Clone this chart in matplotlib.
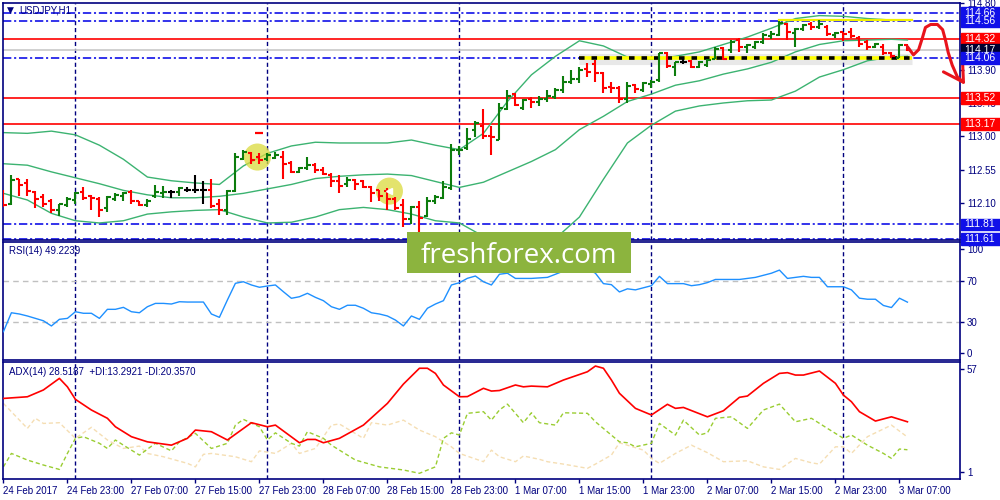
import matplotlib.pyplot as plt
from matplotlib.patches import Rectangle
import numpy as np

plt.rcParams['font.family'] = ['Liberation Sans', 'DejaVu Sans']
plt.rcParams['lines.scale_dashes'] = False

# ---- hourly bars, 24 Feb 15:00 .. 3 Mar 08:00
opens = [112.25, 112.09, 112.42, 112.37, 112.25, 112.18, 112.13, 112.00, 112.07, 112.14,
         112.25, 112.19, 112.16, 112.03, 112.16, 112.19, 112.25, 112.12, 112.07, 112.19,
         112.23, 112.25, 112.25, 112.28, 112.27, 112.28, 112.28, 112.08, 112.01, 112.26,
         112.69, 112.78, 112.72, 112.69, 112.71, 112.72, 112.64, 112.52, 112.57, 112.61,
         112.55, 112.48, 112.39, 112.35, 112.41, 112.39, 112.31, 112.27, 112.26, 112.15,
         112.07, 111.89, 112.04, 111.92, 112.12, 112.17, 112.30, 112.81, 112.84, 113.08,
         113.14, 113.00, 112.95, 113.37, 113.57, 113.38, 113.51, 113.47, 113.51, 113.53,
         113.62, 113.74, 113.78, 113.91, 113.98, 113.86, 113.67, 113.65, 113.51, 113.69,
         113.63, 113.71, 113.76, 114.12, 113.94, 114.00, 114.02, 113.93, 113.96, 114.05,
         114.19, 114.17, 114.30, 114.20, 114.20, 114.27, 114.35, 114.37, 114.51, 114.39,
         114.45, 114.51, 114.47, 114.47, 114.37, 114.41, 114.41, 114.33, 114.28, 114.20,
         114.21, 114.12, 114.06, 114.23]
highs = [112.27, 112.48, 112.43, 112.43, 112.26, 112.22, 112.15, 112.08, 112.18, 112.25,
         112.31, 112.21, 112.18, 112.19, 112.23, 112.25, 112.27, 112.13, 112.15, 112.34,
         112.33, 112.27, 112.31, 112.32, 112.48, 112.40, 112.43, 112.16, 112.28, 112.77,
         112.82, 112.79, 112.77, 112.78, 112.79, 112.80, 112.66, 112.58, 112.72, 112.64,
         112.58, 112.50, 112.48, 112.45, 112.43, 112.41, 112.33, 112.28, 112.30, 112.18,
         112.15, 112.06, 112.12, 112.18, 112.21, 112.40, 112.90, 112.87, 113.11, 113.21,
         113.37, 113.14, 113.45, 113.62, 113.59, 113.51, 113.53, 113.55, 113.62, 113.65,
         113.82, 113.89, 113.94, 113.99, 114.03, 113.87, 113.73, 113.68, 113.73, 113.71,
         113.74, 113.76, 114.13, 114.14, 114.01, 114.06, 114.03, 114.02, 114.05, 114.20,
         114.20, 114.30, 114.33, 114.24, 114.29, 114.39, 114.42, 114.56, 114.53, 114.46,
         114.52, 114.55, 114.57, 114.50, 114.41, 114.41, 114.46, 114.35, 114.30, 114.26,
         114.24, 114.14, 114.24, 114.24]
lows = [112.05, 112.07, 112.19, 112.20, 112.03, 112.05, 111.97, 111.92, 112.05, 112.09,
        112.14, 112.01, 111.91, 111.98, 112.13, 112.13, 112.09, 112.06, 112.05, 112.17,
        112.17, 112.17, 112.20, 112.25, 112.23, 112.08, 112.03, 111.94, 111.94, 112.25,
        112.68, 112.63, 112.63, 112.66, 112.70, 112.43, 112.51, 112.51, 112.55, 112.51,
        112.48, 112.31, 112.24, 112.32, 112.28, 112.30, 112.11, 112.12, 112.01, 112.00,
        111.77, 111.82, 111.71, 111.91, 112.08, 112.16, 112.28, 112.75, 112.82, 112.99,
        112.97, 112.75, 112.95, 113.36, 113.41, 113.35, 113.38, 113.41, 113.47, 113.51,
        113.59, 113.71, 113.72, 113.80, 113.73, 113.59, 113.59, 113.45, 113.45, 113.58,
        113.60, 113.65, 113.74, 113.92, 113.81, 113.97, 113.92, 113.92, 113.94, 114.05,
        114.03, 114.12, 114.14, 114.12, 114.18, 114.24, 114.32, 114.35, 114.30, 114.21,
        114.42, 114.44, 114.45, 114.35, 114.33, 114.29, 114.33, 114.21, 114.17, 114.19,
        114.10, 114.06, 114.06, 114.15]
closes = [112.07, 112.41, 112.34, 112.26, 112.15, 112.08, 112.00, 112.08, 112.16, 112.23,
          112.17, 112.17, 112.01, 112.18, 112.21, 112.23, 112.13, 112.07, 112.13, 112.25,
          112.25, 112.25, 112.30, 112.28, 112.27, 112.28, 112.06, 112.01, 112.26, 112.72,
          112.79, 112.68, 112.68, 112.75, 112.75, 112.63, 112.52, 112.57, 112.61, 112.54,
          112.49, 112.39, 112.33, 112.41, 112.36, 112.32, 112.24, 112.19, 112.15, 112.03,
          111.89, 112.04, 111.90, 112.13, 112.18, 112.31, 112.82, 112.82, 112.97, 113.18,
          113.00, 112.99, 113.38, 113.55, 113.42, 113.49, 113.47, 113.50, 113.54, 113.62,
          113.74, 113.77, 113.90, 113.87, 113.86, 113.65, 113.65, 113.51, 113.68, 113.64,
          113.72, 113.74, 114.12, 113.95, 114.00, 114.00, 113.93, 114.00, 114.03, 114.18,
          114.05, 114.28, 114.20, 114.23, 114.27, 114.37, 114.38, 114.53, 114.41, 114.45,
          114.50, 114.47, 114.51, 114.38, 114.39, 114.38, 114.35, 114.24, 114.21, 114.24,
          114.12, 114.08, 114.23, 114.17]

# ---- Bollinger bands, read every third bar
bb_idx = [0, 3, 6, 9, 12, 15, 18, 21, 24, 27, 30, 33, 36, 39, 42, 45, 48, 51, 54, 57,
          60, 63, 66, 69, 72, 75, 78, 81, 84, 87, 90, 93, 96, 99, 102, 105, 108, 111, 113]
bb_upper = [113.05, 113.04, 113.07, 113.02, 112.88, 112.69, 112.45, 112.40, 112.37, 112.35,
            112.60, 112.77, 112.87, 112.92, 112.91, 112.91, 112.91, 112.95, 112.88, 112.82,
            113.04, 113.47, 113.83, 114.08, 114.29, 114.22, 114.07, 114.04, 114.08, 114.14,
            114.24, 114.34, 114.46, 114.59, 114.63, 114.62, 114.59, 114.57, 114.57]
bb_mid = [112.63, 112.61, 112.52, 112.44, 112.36, 112.27, 112.21, 112.17, 112.17, 112.19,
          112.23, 112.29, 112.35, 112.43, 112.46, 112.48, 112.49, 112.47, 112.39, 112.31,
          112.38, 112.52, 112.66, 112.82, 113.09, 113.27, 113.47, 113.57, 113.69, 113.75,
          113.84, 113.91, 114.00, 114.14, 114.24, 114.29, 114.30, 114.31, 114.30]
bb_lower = [112.23, 112.14, 111.96, 111.86, 111.83, 111.86, 111.95, 111.98, 112.00, 112.01,
            111.91, 111.83, 111.84, 111.91, 112.01, 112.04, 112.01, 111.95, 111.86, 111.83,
            111.65, 111.53, 111.50, 111.62, 111.91, 112.42, 112.91, 113.15, 113.34, 113.41,
            113.45, 113.48, 113.49, 113.61, 113.80, 113.90, 114.02, 114.07, 114.08]

# ---- RSI(14), one value per bar
rsi = [20.8, 39.0, 37.8, 35.9, 33.6, 31.3, 26.3, 32.7, 33.6, 40.0,
       38.5, 38.5, 33.6, 42.3, 42.3, 44.2, 40.0, 39.0, 44.8, 48.0,
       48.0, 47.4, 49.6, 49.3, 49.3, 49.3, 37.8, 34.6, 51.3, 67.3,
       68.8, 65.7, 63.5, 64.7, 65.7, 59.2, 52.9, 54.4, 57.7, 53.8,
       50.6, 44.8, 42.3, 46.2, 46.2, 43.3, 39.0, 37.8, 35.9, 32.0,
       26.3, 35.9, 32.7, 43.3, 47.4, 50.6, 65.7, 67.9, 72.1, 74.3,
       68.8, 65.7, 76.0, 77.0, 72.0, 72.0, 72.0, 72.5, 73.0, 76.0,
       79.0, 81.0, 83.0, 81.0, 77.0, 67.0, 66.0, 59.0, 62.0, 61.0,
       63.0, 65.0, 74.0, 67.0, 67.0, 67.0, 65.0, 66.0, 68.0, 71.0,
       71.0, 71.0, 71.0, 72.0, 73.0, 75.0, 77.0, 80.0, 72.0, 73.0,
       74.0, 73.0, 73.0, 64.0, 64.0, 64.0, 61.0, 53.0, 52.0, 52.0,
       46.0, 44.0, 53.0, 49.2]

# ---- ADX(14) with +DI / -DI
adx_idx = [0, 3, 5, 7, 8, 9, 11, 13, 14, 16, 18, 21, 23, 24, 26, 28, 31, 33, 34, 37,
           38, 39, 40, 42, 45, 48, 50, 52, 53, 54, 55, 57, 58, 60, 61, 62, 64, 65, 66, 68,
           70, 73, 74, 75, 76, 77, 79, 81, 83, 84, 85, 88, 90, 92, 93, 95, 97, 98, 99, 100,
           102, 104, 105, 106, 107, 109, 111, 113]
adx = [41.2, 42.1, 45.8, 52.1, 47.5, 40.7, 34.9, 30.4, 25.8, 20.4, 17.6, 15.8, 19.5, 24.0,
       23.1, 18.6, 28.0, 25.8, 26.7, 17.1, 18.9, 18.9, 17.1, 19.5, 26.7, 38.5, 49.0, 57.6,
       57.6, 54.8, 48.5, 42.1, 42.2, 46.7, 45.2, 45.5, 48.5, 47.5, 47.9, 47.5, 51.2, 55.7,
       58.8, 57.6, 51.2, 44.0, 35.8, 32.2, 38.0, 35.8, 36.3, 31.2, 34.5, 41.8, 42.5, 49.4,
       54.8, 55.2, 53.9, 53.9, 56.1, 49.4, 43.0, 39.4, 34.0, 28.9, 31.2, 28.5]
pdi_idx = [0, 1, 3, 5, 7, 8, 9, 10, 12, 13, 14, 15, 17, 19, 21, 22, 24, 26, 28, 29,
           30, 32, 33, 34, 36, 37, 38, 40, 41, 44, 47, 50, 52, 54, 55, 56, 57, 58, 60, 61,
           62, 63, 64, 65, 66, 67, 69, 70, 73, 74, 77, 78, 79, 81, 82, 84, 85, 87, 88, 89,
           91, 93, 95, 97, 99, 101, 103, 105, 106, 108, 110, 111, 112, 113]
pdi = [4.0, 11.3, 7.7, 5.0, 2.6, 11.3, 19.5, 20.4, 16.8, 14.0, 18.6, 15.8, 10.4, 16.8,
       12.7, 17.6, 22.2, 14.0, 16.8, 26.7, 29.8, 25.8, 18.6, 22.5, 16.8, 15.3, 23.1, 19.5,
       15.8, 7.7, 4.0, 2.3, 0.5, 4.0, 19.5, 22.5, 21.3, 33.1, 34.0, 29.4, 34.9, 38.1, 33.1,
       28.0, 33.4, 28.0, 26.7, 33.4, 33.1, 28.5, 17.6, 17.1, 14.9, 16.8, 27.6, 21.3, 29.4,
       21.3, 22.5, 30.4, 31.2, 24.9, 34.9, 38.1, 28.5, 30.4, 24.9, 19.5, 21.3, 15.8, 11.3,
       8.6, 13.7, 13.3]
mdi_idx = [0, 3, 4, 5, 7, 9, 11, 13, 15, 17, 18, 20, 23, 24, 25, 26, 29, 31, 32, 34,
           36, 37, 39, 41, 42, 45, 46, 48, 50, 52, 54, 56, 57, 60, 61, 62, 64, 65, 67, 68,
           70, 73, 74, 76, 77, 80, 81, 82, 84, 86, 88, 90, 93, 95, 97, 99, 101, 102, 104, 105,
           106, 108, 111, 113]
mdi = [38.5, 24.9, 30.4, 27.6, 28.0, 19.5, 25.5, 18.6, 14.0, 15.3, 11.3, 9.5, 5.9, 4.0,
       10.8, 11.3, 9.5, 6.8, 12.7, 11.3, 16.8, 11.3, 14.0, 26.7, 27.3, 19.5, 28.0, 26.7,
       29.4, 24.0, 20.4, 14.9, 11.3, 6.8, 13.1, 9.5, 6.8, 9.9, 8.1, 6.8, 5.5, 3.2, 5.5,
       10.4, 17.1, 13.1, 8.6, 5.9, 11.3, 15.8, 11.7, 6.8, 7.3, 4.0, 2.6, 8.6, 6.2, 5.5,
       14.9, 14.9, 11.3, 20.4, 26.7, 20.2]

time_labels = ['24 Feb 2017', '24 Feb 23:00', '27 Feb 07:00', '27 Feb 15:00', '27 Feb 23:00',
               '28 Feb 07:00', '28 Feb 15:00', '28 Feb 23:00', '1 Mar 07:00', '1 Mar 15:00',
               '1 Mar 23:00', '2 Mar 07:00', '2 Mar 15:00', '2 Mar 23:00', '3 Mar 07:00']
time_idx = list(range(0, 113, 8))
day_idx = [9, 33, 57, 81, 105]

# horizontal levels drawn on the chart: (price, kind)
levels = [(114.66, 'blue'), (114.56, 'blue'), (114.32, 'red'), (114.17, 'bid'),
          (114.06, 'blue'), (113.52, 'red'), (113.17, 'red'), (111.81, 'blue'), (111.61, 'blue')]
price_ticks = [111.65, 112.10, 112.55, 113.00, 113.45, 113.90, 114.35, 114.80]
# labels of 111.65 and 114.35 sit fully under the level boxes, so they are left blank
price_tick_labels = ['', '112.10', '112.55', '113.00', '113.45', '113.90', '', '114.80']

# annotations
circle_idx = [31.75, 48.25]
circle_price = [112.72, 112.26]
arrow_idx = [113.0, 113.75, 114.4, 114.9, 115.25, 115.9, 116.75, 117.4, 117.75, 118.1, 118.6, 119.25, 120.0]
arrow_price = [114.21, 114.10, 114.17, 114.34, 114.47, 114.51, 114.51, 114.44, 114.30, 114.13, 113.96, 113.80, 113.73]
head_idx = [117.5, 120.0, 119.9]
head_price = [113.87, 113.73, 113.99]

NAVY = '#00007F'
BLUE = '#1010E8'
GREEN = '#0C7C0C'
BAND = '#3CB371'
XMIN, XMAX = -0.05, 119.57

fig = plt.figure(figsize=(10, 5), dpi=100)
ax = fig.add_axes([0.003, 0.52, 0.957, 0.474])
rax = fig.add_axes([0.003, 0.28, 0.957, 0.236])
dax = fig.add_axes([0.003, 0.042, 0.957, 0.234])

for a in (ax, rax, dax):
    a.set_xlim(XMIN, XMAX)
    for s in a.spines.values():
        s.set_color(NAVY)
        s.set_linewidth(1.2)
    a.yaxis.tick_right()
    a.tick_params(axis='y', direction='out', length=3, width=1, colors=NAVY,
                  labelsize=7, pad=2)
    a.tick_params(axis='x', bottom=False, labelbottom=False)
    for d in day_idx:
        a.axvline(d, color=NAVY, lw=1, ls=(0, (3, 2)), zorder=1)

# ---- main price panel
ax.set_ylim(111.60, 114.80)
ax.set_yticks(price_ticks)
ax.set_yticklabels(price_tick_labels)

for p, kind in levels:
    if kind == 'blue':
        ax.axhline(p, color=BLUE, lw=1.2, ls=(0, (6, 2, 1.5, 2)), zorder=1)
    elif kind == 'red':
        ax.axhline(p, color='#FF0000', lw=1.2, zorder=1)
    else:
        ax.axhline(p, color='#C8C8C8', lw=1.2, zorder=1)

# highlighted support / resistance
ax.plot([72, 113.6], [114.045, 114.045], color='#808080', lw=8, alpha=0.18,
        solid_capstyle='butt', zorder=2)
ax.plot([72, 113.6], [114.06, 114.06], color='#FFFF00', lw=2.6, solid_capstyle='butt', zorder=3)
ax.plot([72, 113.6], [114.06, 114.06], color='#000000', lw=2.6, ls=(0, (4, 5)), zorder=3)
ax.plot([97, 113.6], [114.575, 114.575], color='#F0F000', lw=1.6, zorder=3)

ax.plot(bb_idx, bb_upper, color=BAND, lw=1, zorder=2)
ax.plot(bb_idx, bb_mid, color=BAND, lw=1, zorder=2)
ax.plot(bb_idx, bb_lower, color=BAND, lw=1, zorder=2)

ax.scatter(circle_idx, circle_price, s=380, color='#DADA3C', alpha=0.75,
           edgecolors='none', zorder=3)

o = np.array(opens)
h = np.array(highs)
l = np.array(lows)
c = np.array(closes)
xi = np.arange(len(c))
cols = np.where(c > o, GREEN, np.where(c < o, '#FF0000', '#000000'))
ax.vlines(xi, l, h, colors=cols, lw=1.5, zorder=4)
ax.hlines(o, xi - 0.42, xi, colors=cols, lw=1.5, zorder=4)
ax.hlines(c, xi, xi + 0.42, colors=cols, lw=1.5, zorder=4)

ax.plot([32], [113.04], marker='_', color='#FF0000', ms=6, mew=1.6, zorder=4)
ax.plot([circle_idx[1]], [circle_price[1]], marker='<', color='white', ms=5, zorder=5)

ax.plot(arrow_idx, arrow_price, color='#E8141C', lw=2.2, clip_on=False,
        solid_capstyle='round', solid_joinstyle='round', zorder=6)
ax.plot(head_idx, head_price, color='#E8141C', lw=2.2, clip_on=False,
        solid_capstyle='round', solid_joinstyle='round', zorder=6)

ax.text(0.004, 0.968, '\u25bc', transform=ax.transAxes, color=NAVY, fontsize=6.5,
        va='center', family=['DejaVu Sans'])
ax.text(0.017, 0.968, 'USDJPY,H1', transform=ax.transAxes, color=NAVY, fontsize=7,
        va='center')

# ---- RSI panel
rax.set_ylim(-6.4, 107)
rax.set_yticks([0, 30, 70, 100])
rax.axhline(70, color='#C0C0C0', lw=1, ls=(0, (4, 3)), zorder=1)
rax.axhline(30, color='#C0C0C0', lw=1, ls=(0, (4, 3)), zorder=1)
rax.plot(xi, rsi, color='#1E90FF', lw=1, zorder=3)
rax.text(0.006, 0.92, 'RSI(14) 49.2239', transform=rax.transAxes, color=NAVY,
         fontsize=7, va='center')

# ---- ADX panel
dax.set_ylim(-2.6, 61)
dax.set_yticks([1, 57])
dax.plot(mdi_idx, mdi, color='#F5DEB3', lw=1, ls=(0, (3, 2)), zorder=2)
dax.plot(pdi_idx, pdi, color='#9ACD32', lw=1, ls=(0, (3, 2)), zorder=2)
dax.plot(adx_idx, adx, color='#FF0000', lw=1.2, zorder=3)
dax.text(0.006, 0.915, 'ADX(14) 28.5187  +DI:13.2921 -DI:20.3570', transform=dax.transAxes,
         color=NAVY, fontsize=7, va='center')
dax.set_xticks(time_idx)
dax.set_xticklabels(time_labels)
dax.tick_params(axis='x', bottom=True, labelbottom=True, direction='out', length=3,
                width=1, colors=NAVY, labelsize=7, pad=2)
for t in dax.get_xticklabels():
    t.set_ha('left')

# ---- price boxes on the scale
sc = fig.add_axes([0.96, 0.52, 0.04, 0.474])
sc.set_ylim(ax.get_ylim())
sc.set_xlim(0, 1)
sc.axis('off')
box_col = {'blue': BLUE, 'red': '#FF0000', 'bid': '#000030'}
for p, kind in levels:
    sc.add_patch(Rectangle((0.02, p - 0.08), 0.98, 0.16, color=box_col[kind],
                           clip_on=False, zorder=3))
    sc.text(0.1, p, '%.2f' % p, color='white', fontsize=7.5, va='center', ha='left',
            clip_on=False, zorder=4)

# ---- watermark logo
logo = fig.add_axes([0.407, 0.4534, 0.2237, 0.0826])
logo.set_facecolor('#8CB43E')
logo.set_xticks([])
logo.set_yticks([])
for s in logo.spines.values():
    s.set_visible(False)
logo.text(0.5, 0.26, 'freshforex.com', color='white', fontsize=20, ha='center',
          va='baseline', family=['Open Sans', 'DejaVu Sans'])

fig.savefig('out.png', dpi=100)
